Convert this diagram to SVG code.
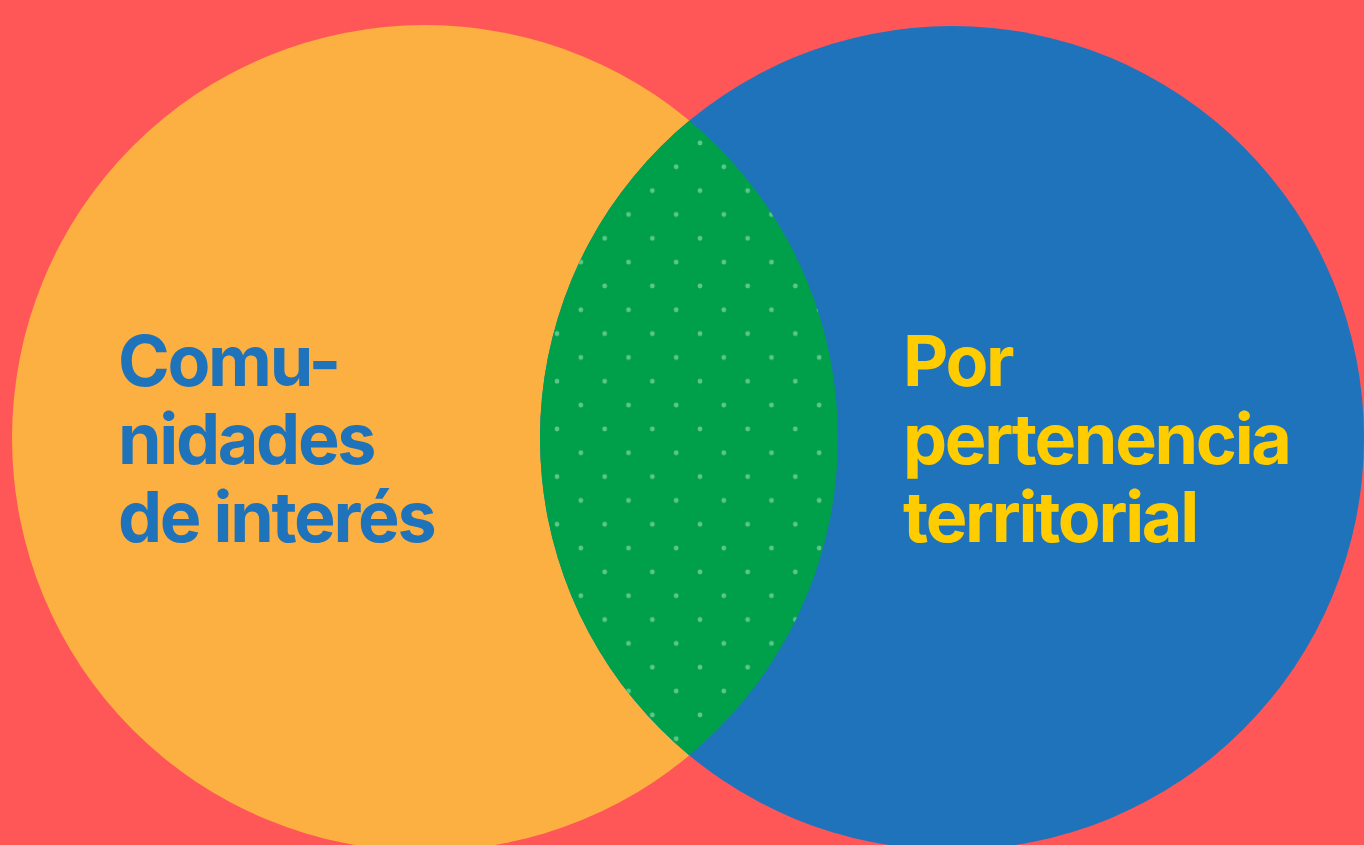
<svg xmlns="http://www.w3.org/2000/svg" width="1364" height="845" viewBox="0 0 1364 845">
  <defs>
    <pattern id="dots" patternUnits="userSpaceOnUse" x="700" y="143" width="47.66" height="47.66">
      <circle cx="0" cy="0" r="2.4" class="dot"/>
      <circle cx="47.66" cy="0" r="2.4" class="dot"/>
      <circle cx="0" cy="47.66" r="2.4" class="dot"/>
      <circle cx="47.66" cy="47.66" r="2.4" class="dot"/>
      <circle cx="23.83" cy="23.83" r="2.4" class="dot"/>
    </pattern>
    <clipPath id="leftClip">
      <circle cx="425" cy="438" r="413"/>
    </clipPath>
  </defs>
  <style>
    .dot { fill: #5fc68a; }
    .label { font-family: Inter, "Liberation Sans", sans-serif; font-weight: 700; font-size: 70px; letter-spacing: -2.3px; }
    .blue { fill: #1f73bb; }
    .yellow { fill: #ffcc00; }
  </style>
  <rect x="0" y="0" width="1364" height="845" fill="#ff5757"/>
  <g id="left-circle">
    <circle cx="425" cy="438" r="413" fill="#fdb042"/>
  </g>
  <g id="right-circle">
    <circle cx="952" cy="438" r="412" fill="#1f73bb"/>
  </g>
  <g id="intersection" clip-path="url(#leftClip)">
    <circle cx="952" cy="438" r="412" fill="#00a04a"/>
    <circle cx="952" cy="438" r="412" fill="url(#dots)"/>
  </g>
  <g id="connectors"></g>
  <g id="left-label">
    <text class="label blue" x="118" y="386">Comu-</text>
    <text class="label blue" x="118" y="464">nidades</text>
    <text class="label blue" x="118" y="542">de interés</text>
  </g>
  <g id="right-label">
    <text class="label yellow" x="903" y="386">Por</text>
    <text class="label yellow" x="903" y="464">pertenencia</text>
    <text class="label yellow" x="903" y="542">territorial</text>
  </g>
</svg>
